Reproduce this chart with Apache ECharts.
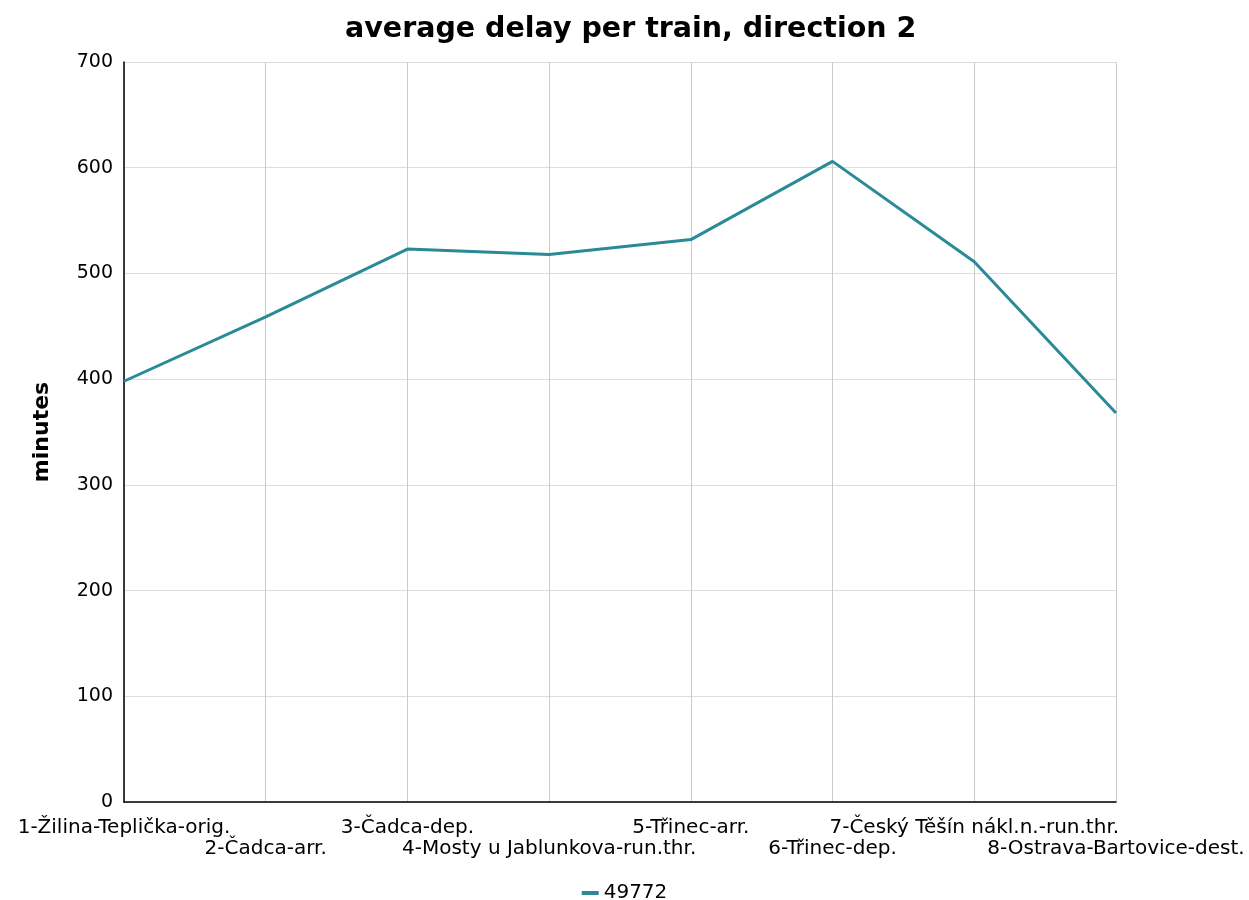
<!DOCTYPE html>
<html>
<head>
<meta charset="utf-8">
<script src="https://cdn.jsdelivr.net/npm/echarts@6/dist/echarts.min.js"></script>
<style>html,body{margin:0;padding:0;background:#fff}#c{width:1249px;height:900px}</style>
</head>
<body>
<div id="c"></div>
<script>
const categories = ["1-Žilina-Teplička-orig.", "2-Čadca-arr.", "3-Čadca-dep.", "4-Mosty u Jablunkova-run.thr.", "5-Třinec-arr.", "6-Třinec-dep.", "7-Český Těšín nákl.n.-run.thr.", "8-Ostrava-Bartovice-dest."];
const values49772 = [398, 459, 523, 518, 532, 606, 511, 368];
const yTicks = [0, 100, 200, 300, 400, 500, 600, 700];
const seriesName = "49772";

const font = "DejaVu Sans";
const chart = echarts.init(document.getElementById('c'), null, {renderer: 'canvas'});
chart.setOption({
  animation: false,
  backgroundColor: '#ffffff',
  title: {
    text: 'average delay per train, direction 2',
    left: 340, top: 10,
    textStyle: {fontFamily: font, fontSize: 28.5, fontWeight: 'bold', color: '#000'}
  },
  legend: {
    left: 'center', top: 878,
    icon: 'rect', itemWidth: 17, itemHeight: 4, itemGap: 7,
    textStyle: {fontFamily: font, fontSize: 20, color: '#000'},
    data: [seriesName]
  },
  grid: {left: 124, right: 133, top: 62, bottom: 98, containLabel: false},
  xAxis: {
    type: 'category', data: categories, boundaryGap: false,
    axisLine: {lineStyle: {color: '#000', width: 1.5}},
    axisTick: {show: false},
    splitLine: {show: true, lineStyle: {color: '#cccccc', width: 1}},
    axisLabel: {
      interval: 0, margin: 15, fontFamily: font, fontSize: 20, color: '#000', lineHeight: 21,
      formatter: function (v, i) { return i % 2 === 1 ? '\n' + v : v; }
    }
  },
  yAxis: {
    type: 'value', min: yTicks[0], max: yTicks[yTicks.length - 1], interval: 100,
    name: 'minutes', nameLocation: 'middle', nameGap: 71, nameRotate: 90,
    nameTextStyle: {fontFamily: font, fontSize: 22, fontWeight: 'bold', color: '#000'},
    axisLine: {show: true, lineStyle: {color: '#000', width: 1.5}},
    axisTick: {show: false},
    splitLine: {show: true, lineStyle: {color: '#dddddd', width: 1}},
    axisLabel: {margin: 11, fontFamily: font, fontSize: 19, color: '#000'}
  },
  series: [{
    name: seriesName, type: 'line', data: values49772,
    showSymbol: false, symbol: 'none',
    lineStyle: {color: '#2a8a96', width: 3},
    itemStyle: {color: '#2a8a96'}
  }]
});
</script>
</body>
</html>
